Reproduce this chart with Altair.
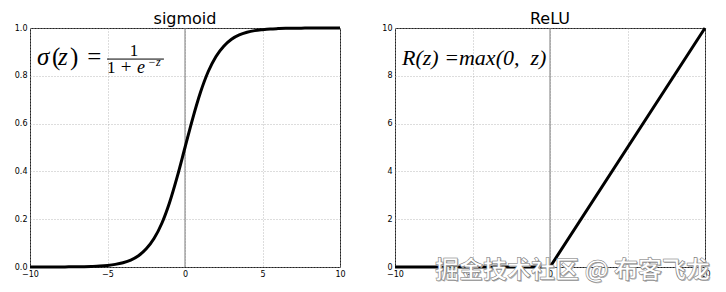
import altair as alt
import pandas as pd

# ---- data ----
sig_x = [-10, -9.5, -9, -8.5, -8, -7.5, -7, -6.5, -6, -5.5, -5, -4.5, -4, -3.5, -3,
         -2.5, -2, -1.5, -1, -0.5, 0, 0.5, 1, 1.5, 2, 2.5, 3, 3.5, 4, 4.5, 5,
         5.5, 6, 6.5, 7, 7.5, 8, 8.5, 9, 9.5, 10]
sig_y = [0.00005, 0.0001, 0.0001, 0.0002, 0.0003, 0.0006, 0.0009, 0.0015, 0.0025, 0.004,
         0.0067, 0.011, 0.018, 0.029, 0.047, 0.076, 0.119, 0.182, 0.269, 0.378, 0.5,
         0.622, 0.731, 0.818, 0.881, 0.924, 0.953, 0.971, 0.982, 0.989, 0.993,
         0.996, 0.9975, 0.9985, 0.999, 0.9994, 0.9997, 0.9998, 0.9999, 0.9999, 1.0]
relu_x = [-10, 0, 10]
relu_y = [0, 0, 10]
x_ticks = [-10, -5, 0, 5, 10]
sig_ticks = [0.0, 0.2, 0.4, 0.6, 0.8, 1.0]
relu_ticks = [0, 2, 4, 6, 8, 10]
titles = ["sigmoid", "ReLU"]
watermark = "掘金技术社区 @ 布客飞龙"

W, H = 310, 239
SANS = "DejaVu Sans"
SERIF = "Liberation Serif"

sig_df = pd.DataFrame({"x": sig_x, "y": sig_y})
relu_df = pd.DataFrame({"x": relu_x, "y": relu_y})


def axes(yticks, yfmt, ydom):
    xs = alt.Scale(domain=[-10, 10], nice=False, zero=False)
    ys = alt.Scale(domain=ydom, nice=False, zero=False)
    common = dict(title=None, domain=False, ticks=False, labelPadding=3, labelFontSize=8,
                  labelFont=SANS, labelColor="#000", grid=True, gridColor="#a8a8a8",
                  gridDash=[1, 2], gridWidth=0.8, labelFlush=False)
    xa = alt.Axis(values=x_ticks, format="d", **common)
    ya = alt.Axis(values=yticks, format=yfmt, **common)
    return xs, ys, xa, ya


def text_at(x, y, txt, size, italic=False, align="left"):
    return alt.Chart().mark_text(
        text=txt, fontSize=size, font=SERIF, fontStyle="italic" if italic else "normal",
        align=align, baseline="alphabetic", color="black"
    ).encode(x=alt.datum(x), y=alt.datum(y))


def title(t):
    return alt.TitleParams(t, font=SANS, fontSize=16, fontWeight="normal",
                           color="black", offset=-5)


# ---- sigmoid panel ----
xs, ys, xa, ya = axes(sig_ticks, ".1f", [0, 1])
sig_line = alt.Chart(sig_df).mark_line(color="black", strokeWidth=3, interpolate="monotone").encode(
    x=alt.X("x:Q", scale=xs, axis=xa),
    y=alt.Y("y:Q", scale=ys, axis=ya),
)
sig_vline = alt.Chart().mark_rule(color="#7a7a7a", strokeWidth=1).encode(x=alt.datum(0))
bar = alt.Chart().mark_rule(color="black", strokeWidth=1).encode(
    x=alt.datum(-5.03), x2=alt.datum(-1.36), y=alt.datum(0.870))
sig_formula = [
    text_at(-9.55, 0.845, "σ", 25, True),
    text_at(-8.58, 0.845, "(", 25),
    text_at(-8.2, 0.845, "z", 25, True),
    text_at(-7.42, 0.845, ")", 25),
    text_at(-6.3, 0.845, "=", 25),
    text_at(-3.29, 0.883, "1", 17, align="center"),
    text_at(-5.03, 0.812, "1", 17),
    text_at(-4.15, 0.812, "+", 19),
    text_at(-3.1, 0.812, "e", 18, True),
    text_at(-2.4, 0.843, "−z", 12, True),
]
left = alt.layer(sig_vline, sig_line, bar, *sig_formula).properties(
    width=W, height=H, title=title(titles[0]))

# ---- ReLU panel ----
xs2, ys2, xa2, ya2 = axes(relu_ticks, "d", [0, 10])
relu_line = alt.Chart(relu_df).mark_line(color="black", strokeWidth=3).encode(
    x=alt.X("x:Q", scale=xs2, axis=xa2),
    y=alt.Y("y:Q", scale=ys2, axis=ya2),
)
relu_vline = alt.Chart().mark_rule(color="#7a7a7a", strokeWidth=1).encode(x=alt.datum(0))
relu_formula = text_at(-9.55, 8.45, "R(z)\u00a0=max(0,\u00a0\u00a0z)", 22, True)
wm_shadow = alt.Chart().mark_text(
    text=watermark, fontSize=24, font="Noto Sans CJK SC", fontWeight="bold", align="left",
    baseline="alphabetic", fill="#b0b0b0", dx=1, dy=1
).encode(x=alt.datum(-7.42), y=alt.datum(-0.46))
wm = alt.Chart().mark_text(
    text=watermark, fontSize=24, font="Noto Sans CJK SC", fontWeight="bold", align="left",
    baseline="alphabetic", fill="white", stroke="#707070", strokeWidth=0.5
).encode(x=alt.datum(-7.42), y=alt.datum(-0.46))
right = alt.layer(relu_vline, relu_line, relu_formula, wm_shadow, wm).properties(
    width=W, height=H, title=title(titles[1]))

chart = alt.hconcat(left, right, spacing=55, bounds="flush").configure_view(
    stroke="#222", strokeWidth=1
).properties(
    padding={"left": 13, "top": 10, "right": 5, "bottom": 5}, background="white"
)

chart.save("out.html", embed_options={"renderer": "svg", "actions": False})
